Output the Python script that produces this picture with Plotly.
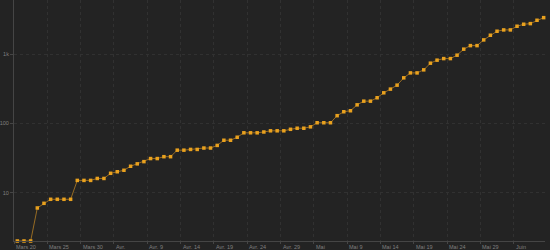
import pandas as pd
import plotly.graph_objects as go

start_date = "2020-03-20"
values = [2, 2, 2, 6, 7, 8, 8, 8, 8, 15,
          15, 15, 16, 16, 19, 20, 21, 24, 26, 28,
          31, 31, 33, 33, 41, 41, 42, 42, 44, 44,
          48, 57, 57, 63, 73, 73, 73, 75, 78, 78,
          78, 82, 85, 85, 89, 102, 102, 102, 129, 147,
          152, 185, 209, 209, 234, 276, 312, 356, 454, 535,
          535, 592, 739, 817, 861, 861, 964, 1178, 1325, 1325,
          1602, 1872, 2138, 2233, 2233, 2524, 2698, 2754, 3078, 3358]
tick_dates = ["2020-03-20", "2020-03-25", "2020-03-30", "2020-04-04", "2020-04-09",
              "2020-04-14", "2020-04-19", "2020-04-24", "2020-04-29", "2020-05-04",
              "2020-05-09", "2020-05-14", "2020-05-19", "2020-05-24", "2020-05-29",
              "2020-06-03"]
tick_labels = ["Mars 20", "Mars 25", "Mars 30", "Avr.", "Avr. 9", "Avr. 14", "Avr. 19",
               "Avr. 24", "Avr. 29", "Mai", "Mai 9", "Mai 14", "Mai 19", "Mai 24",
               "Mai 29", "Juin"]
y_tickvals = [10, 100, 1000]
y_ticktext = ["10", "100", "1k"]

dates = pd.date_range(start_date, periods=len(values), freq="D") + pd.Timedelta(hours=12)

fig = go.Figure()
fig.add_trace(go.Scatter(
    x=dates, y=values, mode="lines+markers",
    line=dict(color="rgba(170,120,35,0.85)", width=1),
    marker=dict(symbol="square", size=3.5, color="#E9A11E",
                line=dict(width=0)),
    cliponaxis=False, showlegend=False,
))

font_col = "#7f7f7f"
for d, t in zip(tick_dates, tick_labels):
    fig.add_annotation(x=d, y=0, xref="x", yref="paper", text=t,
                       showarrow=False, xanchor="left", yanchor="top",
                       xshift=0, yshift=-1,
                       font=dict(family="Liberation Sans", size=5.5, color=font_col))

end = pd.Timestamp(start_date) + pd.Timedelta(hours=79.7 * 24)
fig.update_xaxes(
    range=[pd.Timestamp(start_date), end],
    tickvals=tick_dates, showticklabels=False,
    showgrid=True, gridcolor="#313131", griddash="dot", gridwidth=1,
    showline=True, linecolor="#454545", linewidth=1,
    ticks="outside", ticklen=2, tickcolor="#454545",
    zeroline=False,
)
fig.update_yaxes(
    type="log", range=[0.301, 3.781],
    tickvals=y_tickvals, ticktext=y_ticktext,
    tickfont=dict(family="Liberation Sans", size=5.5, color=font_col),
    showgrid=True, gridcolor="#313131", griddash="dot", gridwidth=1,
    showline=True, linecolor="#454545", linewidth=1,
    ticks="outside", ticklen=3, tickcolor="#454545",
    zeroline=False,
)
fig.update_layout(
    width=550, height=250,
    margin=dict(l=14, r=5, t=0, b=9),
    paper_bgcolor="#232323", plot_bgcolor="#232323",
)
fig.write_html("out.html")
